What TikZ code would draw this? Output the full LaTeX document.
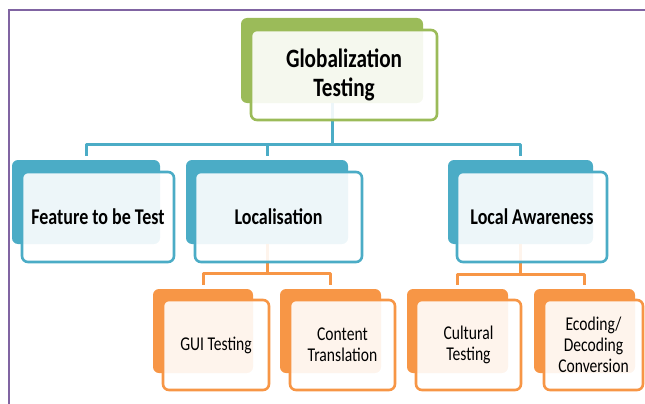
\documentclass[tikz,border=0pt]{standalone}
\usepackage{fontspec}
\setmainfont{Carlito}[FakeStretch=0.8]
\definecolor{cgreen}{HTML}{9BBB59}
\definecolor{cteal}{HTML}{4BACC6}
\definecolor{corange}{HTML}{F79646}
\definecolor{cpurple}{HTML}{8064A2}
\begin{document}
\begin{tikzpicture}[x=1pt,y=-1pt,
  backbox/.style={fill=#1, rounded corners=6pt, inner sep=0pt, draw=none},
  frontbox/.style={draw=#1, line width=2.6pt, fill=white, fill opacity=0.9, text opacity=1,
    rounded corners=6pt, inner sep=0pt, align=center, text=black},
  lvlone/.style={font=\fontsize{26.5}{28.5}\selectfont\bfseries},
  lvltwo/.style={font=\fontsize{22.5}{26}\selectfont\bfseries},
  lvlthree/.style={font=\fontsize{19.5}{21}\selectfont},
  conn/.style={draw=#1, line width=3pt, line join=round, shorten >=4pt}
]
\useasboundingbox (0,0) rectangle (645,404);
% frame
\coordinate (fr1) at (9,404);
\coordinate (fr2) at (9,10);
\coordinate (fr3) at (645,10);
\draw[cpurple, line width=2.4pt] (fr1) -- (fr2) -- (fr3);

% back boxes
\node[backbox=cgreen, minimum width=182, minimum height=85] (tb) at (332,60.5) {};
\node[backbox=cteal, minimum width=148, minimum height=84] (fb) at (86,202) {};
\node[backbox=cteal, minimum width=162, minimum height=84] (lb) at (267,202) {};
\node[backbox=cteal, minimum width=145, minimum height=84] (ab) at (520.5,202) {};
\node[backbox=corange, minimum width=100, minimum height=84] (gb) at (203,331) {};
\node[backbox=corange, minimum width=101, minimum height=84] (cb) at (330.5,331) {};
\node[backbox=corange, minimum width=101, minimum height=84] (ub) at (457.5,331) {};
\node[backbox=corange, minimum width=101, minimum height=84] (eb) at (584.5,331) {};

% connectors
\coordinate (j1) at (332,144);
\draw[conn=cteal, shorten >=0pt] (tb.south) -- (j1);
\draw[conn=cteal] (j1) -| (fb.north);
\draw[conn=cteal] (j1) -| (lb.north);
\draw[conn=cteal] (j1) -| (ab.north);
\coordinate (j2) at (267,273.5);
\draw[conn=corange, shorten >=0pt] (lb.south) -- (j2);
\draw[conn=corange] (j2) -| (gb.north);
\draw[conn=corange] (j2) -| (cb.north);
\coordinate (j3) at (520.5,274);
\draw[conn=corange, shorten >=0pt] (ab.south) -- (j3);
\draw[conn=corange] (j3) -| (ub.north);
\draw[conn=corange] (j3) -| (eb.north);

% front boxes
\node[frontbox=cgreen, lvlone, minimum width=186, minimum height=90] (tf) at (344,75) {Globalization\\Testing};
\node[frontbox=cteal, lvltwo, minimum width=152, minimum height=90] (ff) at (98,217) {Feature to be Test};
\node[frontbox=cteal, lvltwo, minimum width=167, minimum height=90] (lf) at (278.5,217) {Localisation};
\node[frontbox=cteal, lvltwo, minimum width=150, minimum height=90] (af) at (532,217) {Local Awareness};
\node[frontbox=corange, lvlthree, minimum width=106, minimum height=90] (gf) at (216,345) {GUI Testing};
\node[frontbox=corange, lvlthree, minimum width=105, minimum height=90] (cf) at (342.5,345) {Content\\Translation};
\node[frontbox=corange, lvlthree, minimum width=105, minimum height=90] (uf) at (468.5,345) {Cultural\\Testing};
\node[frontbox=corange, lvlthree, minimum width=99, minimum height=90] (ef) at (593.5,345) {Ecoding/\\Decoding\\Conversion};
\end{tikzpicture}
\end{document}
